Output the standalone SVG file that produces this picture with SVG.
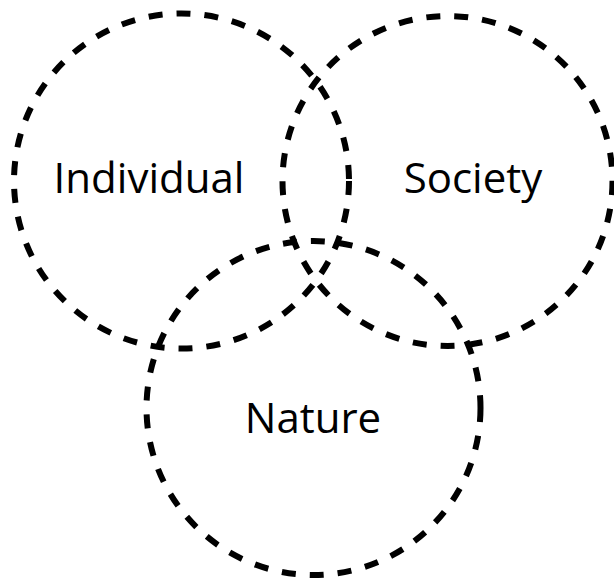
<svg xmlns="http://www.w3.org/2000/svg" width="614" height="581" viewBox="0 0 614 581">
<style>
.c{fill:none;stroke:#000;stroke-width:6;stroke-dasharray:14 14}
.t{font-family:"Open Sans","Noto Sans",sans-serif;font-size:42px;fill:#000;text-anchor:middle}
</style>
<rect width="614" height="581" fill="#fff"/>
<g id="connectors"></g>
<g id="individual"><circle class="c" cx="181.5" cy="181" r="167.5"/><text class="t" x="149" y="193">Individual</text></g>
<g id="society"><circle class="c" cx="447.5" cy="181" r="165"/><text class="t" x="473" y="193">Society</text></g>
<g id="nature"><circle class="c" cx="313.5" cy="408" r="167"/><text class="t" x="313" y="433">Nature</text></g>
</svg>
